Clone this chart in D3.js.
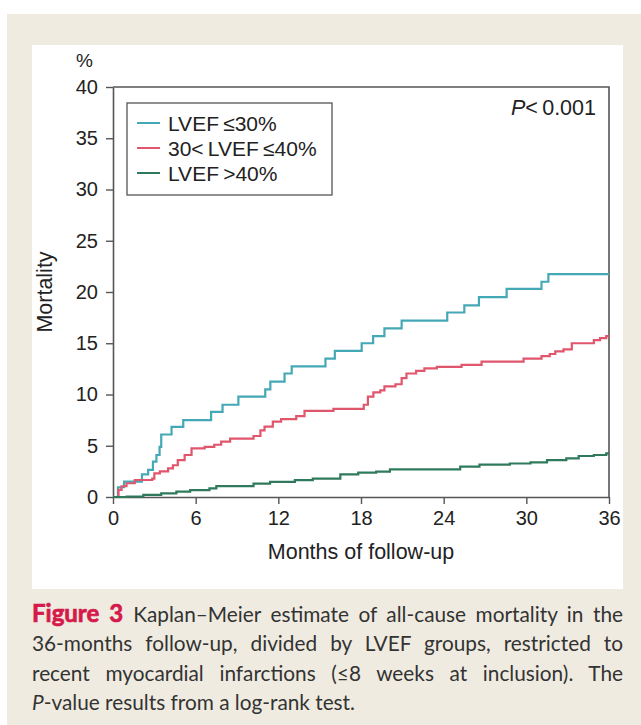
<!DOCTYPE html>
<html lang="en">
<head>
    <meta charset="UTF-8">
    <title>Figure 3</title>
    <style>
        body{ margin:0; background:#fff; }
        svg{ display:block; }
        .tick text{ font-family:"Liberation Sans", Arial, sans-serif; }
    </style>
    <script src="https://cdn.jsdelivr.net/npm/d3@7"></script>
</head>
<body>
<script>
    const width = 641
    const height = 725

    // Kaplan-Meier steps: [month, mortality %]
    const lowEF = [[0,0],[0.36,0.95],[0.8,1.5],[2.1,2.2],[2.55,2.65],[2.9,3.45],[3.15,4.1],[3.38,4.9],[3.5,6.1],[4.25,6.85],[5.1,7.5],[7.12,8.3],[7.95,9.0],[9.1,9.8],[11.05,10.5],[11.42,11.25],[12.45,12.05],[12.97,12.75],[15.42,13.5],[16.1,14.25],[18.05,15.0],[18.88,15.7],[19.7,16.45],[20.95,17.2],[24.26,18.0],[25.5,18.7],[26.56,19.5],[28.57,20.3],[31.1,21.0],[31.6,21.75],[36,21.75]]
    const midEF = [[0,0],[0.4,0.7],[0.62,1.05],[0.98,1.34],[1.58,1.66],[2.85,1.8],[3.0,2.3],[3.4,2.5],[4.0,2.8],[4.35,3.1],[4.7,3.6],[5.2,4.1],[5.7,4.75],[6.65,4.9],[7.35,5.1],[7.85,5.4],[8.5,5.7],[10.2,5.95],[10.7,6.5],[11.0,6.86],[11.6,7.35],[12.2,7.6],[13.3,7.9],[13.9,8.4],[16.0,8.6],[18.2,9.0],[18.5,9.8],[18.9,10.2],[19.4,10.4],[19.7,10.8],[20.5,11.0],[20.95,11.6],[21.3,12.05],[22.0,12.3],[22.6,12.55],[23.5,12.7],[25.3,12.9],[26.75,13.2],[29.8,13.5],[31.1,13.75],[31.7,13.95],[32.1,14.2],[32.7,14.4],[33.3,15.0],[34.9,15.3],[35.35,15.5],[35.8,15.7],[36,15.7]]
    const highEF = [[0,0],[1.0,0.05],[2.2,0.2],[3.5,0.36],[4.6,0.52],[5.6,0.68],[7.0,0.85],[7.5,1.07],[10.2,1.3],[11.4,1.48],[13.2,1.64],[14.5,1.8],[16.5,2.2],[17.8,2.37],[19.1,2.47],[20.1,2.7],[25.2,2.96],[26.6,3.15],[28.8,3.27],[30.3,3.37],[31.5,3.6],[32.9,3.77],[33.8,4.0],[34.9,4.1],[35.8,4.25],[36,4.25]]

    const groupNames = ["LVEF\u2009\u226430%", "30<\u2009LVEF\u2009\u226440%", "LVEF\u2009>40%"]
    const groupColors = ["#45a8b6", "#e0566c", "#2f7a5c"]
    const xTicks = [0, 6, 12, 18, 24, 30, 36]
    const yTicks = [0, 5, 10, 15, 20, 25, 30, 35, 40]

    const captionLines = [
        "Kaplan\u2013Meier estimate of all-cause mortality in the",
        "36-months follow-up, divided by LVEF groups, restricted to",
        "recent myocardial infarctions (\u22648 weeks at inclusion). The",
        "-value results from a log-rank test."
    ]

    let svg = d3.select("body").append("svg")
        .attr("width", width)
        .attr("height", height)

    // page background / panels
    svg.append("rect").attr("x", 7).attr("y", 14).attr("width", width - 7).attr("height", height - 14)
        .attr("fill", "#efebe0")
    svg.append("rect").attr("x", 32).attr("y", 45).attr("width", 591).attr("height", 544)
        .attr("fill", "#fff")

    const m = {left: 113, top: 87, right: 609, bottom: 497}

    const x = d3.scaleLinear().domain([0, 36]).range([m.left, m.right])
    const y = d3.scaleLinear().domain([0, 40]).range([m.bottom, m.top])

    const gx = svg.append("g")
        .attr("transform", `translate(0,${m.bottom})`)
        .call(d3.axisBottom(x).tickValues(xTicks).tickSize(7).tickPadding(7).tickSizeOuter(0))
    const gy = svg.append("g")
        .attr("transform", `translate(${m.left},0)`)
        .call(d3.axisLeft(y).tickValues(yTicks).tickSize(7).tickPadding(8).tickSizeOuter(0))

    ;[gx, gy].forEach(g => {
        g.select(".domain").attr("stroke", "#555").attr("stroke-width", 1.6)
        g.selectAll(".tick line").attr("stroke", "#555").attr("stroke-width", 1.4)
        g.selectAll(".tick text").attr("fill", "#222").attr("font-size", 20)
    })

    // top and right frame
    svg.append("path")
        .attr("d", `M${m.left},${m.top}H${m.right}V${m.bottom}`)
        .attr("fill", "none").attr("stroke", "#555").attr("stroke-width", 1.6)

    const line = d3.line()
        .x(d => x(d[0]))
        .y(d => y(d[1]))
        .curve(d3.curveStepAfter)

    const series = [lowEF, midEF, highEF]
    svg.append("g").selectAll("path")
        .data(series)
        .enter()
        .append("path")
        .attr("d", line)
        .attr("fill", "none")
        .attr("stroke", (d, i) => groupColors[i])
        .attr("stroke-width", 2.2)

    const txt = (sel) => sel.attr("font-family", "'Liberation Sans', Arial, sans-serif").attr("fill", "#222")

    // legend
    const lg = svg.append("g")
    lg.append("rect").attr("x", 127).attr("y", 103).attr("width", 205).attr("height", 92)
        .attr("fill", "#fff").attr("stroke", "#555").attr("stroke-width", 1.3)
    groupNames.forEach((name, i) => {
        const cy = 123 + i * 25
        lg.append("line").attr("x1", 137).attr("x2", 160).attr("y1", cy).attr("y2", cy)
            .attr("stroke", groupColors[i]).attr("stroke-width", 2)
        lg.append("text").attr("x", 168).attr("y", cy + 7.5).attr("font-size", 21).text(name).call(txt)
    })

    const pv = svg.append("text").attr("x", 596).attr("y", 115).attr("text-anchor", "end")
        .attr("font-size", 21.5).call(txt)
    pv.append("tspan").attr("font-style", "italic").text("P")
    pv.append("tspan").text("<\u20090.001")

    svg.append("text").attr("x", 76).attr("y", 67).attr("font-size", 19).text("%").call(txt)
    svg.append("text").attr("x", 361).attr("y", 559).attr("text-anchor", "middle")
        .attr("font-size", 21.5).text("Months of follow-up").call(txt)
    svg.append("text").attr("transform", "translate(52,292) rotate(-90)").attr("text-anchor", "middle")
        .attr("font-size", 21.5).text("Mortality").call(txt)

    // caption, justified between 32 and 623
    const capLeft = 32, capWidth = 591
    const capFont = "Lato, 'Open Sans', sans-serif"
    captionLines.forEach((ln, i) => {
        const t = svg.append("text")
            .attr("x", capLeft).attr("y", 622 + i * 29.3)
            .attr("font-family", capFont).attr("font-size", 20.8).attr("fill", "#333")
        if (i === 0) {
            t.append("tspan").attr("font-weight", "bold").attr("font-size", 24)
                .attr("fill", "#d51a4b").attr("stroke", "#d51a4b").attr("stroke-width", 0.7)
                .text("Figure 3 ")
        }
        if (i === 3) {
            t.append("tspan").attr("font-style", "italic").text("P")
        }
        t.append("tspan").text(ln)
        if (i < 3) {
            const w = t.node().getComputedTextLength()
            const gaps = (i === 0 ? "Figure 3 " + ln : ln).split(" ").length - 1
            t.attr("word-spacing", (capWidth - w) / gaps)
        }
    })
</script>
</body>
</html>
